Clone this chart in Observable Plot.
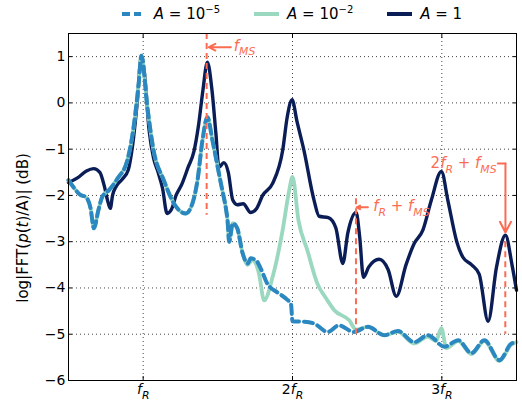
<!DOCTYPE html>
<html><head><meta charset="utf-8">
<script src="https://cdn.jsdelivr.net/npm/d3@7"></script>
<script src="https://cdn.jsdelivr.net/npm/@observablehq/plot@0.6"></script>
<style>
body{margin:0;background:#fff;font-family:"DejaVu Sans",sans-serif;}
#wrap{position:relative;width:522px;height:403px;overflow:hidden;}
#legend{position:absolute;left:68px;width:448px;top:0;height:28px;display:flex;justify-content:center;align-items:center;font-size:15px;color:#000;z-index:2;}
.sw{display:inline-block;width:25px;height:0;border-top:4px solid;margin-right:8px;}
.item{display:flex;align-items:center;margin:0 17px;white-space:nowrap;}
#ylab{position:absolute;left:23px;top:228px;transform:translate(-50%,-50%) rotate(-90deg);font-size:15px;white-space:nowrap;z-index:2;color:#000;}
#chart{position:absolute;left:0;top:32px;z-index:1;}
sup{font-size:10px;vertical-align:6px;line-height:0;}
</style></head>
<body><div id="wrap">
<div id="chart"></div>
<div id="legend"></div>
<div id="ylab">log|FFT(<i>p</i>(<i>t</i>)/A)| (dB)</div>
</div>
<script>
// ---- data (x in units of f_R, y in log units) ----
const xTicks = [1, 2, 3];
const xTickLabels = [[["f","i"],["R","is"]], [["2",""],["f","i"],["R","is"]], [["3",""],["f","i"],["R","is"]]];
const yTicks = [-6, -5, -4, -3, -2, -1, 0, 1];

const seriesNames = ["A = 10^-5", "A = 10^-2", "A = 1"];
const seriesColors = ["#2a87c0", "#9ad8bf", "#0b1d57"];

const navyX = [0.5,0.56,0.62,0.668,0.71,0.74,0.765,0.78,0.795,0.82,0.86,0.9,0.93,0.96,0.988,1.01,1.04,1.07,1.1,1.13,1.16,1.19,1.22,1.26,1.3,1.34,1.37,1.40,1.43,1.46,1.487,1.507,1.54,1.57,1.6,1.63,1.67,1.72,1.76,1.8,1.867,1.934,1.965,1.997,2.03,2.077,2.144,2.178,2.24,2.29,2.337,2.37,2.426,2.45,2.475,2.51,2.58,2.64,2.695,2.76,2.815,2.873,2.93,2.997,3.04,3.1,3.14,3.2,3.25,3.31,3.366,3.426,3.47,3.5];
const navyY = [-1.72,-1.62,-1.47,-1.42,-1.5,-1.8,-2.15,-2.28,-2.0,-1.8,-1.65,-1.45,-0.9,0.0,1.02,0.6,-0.6,-1.2,-1.5,-1.85,-2.39,-2.3,-2.0,-1.75,-1.4,-1.05,-0.5,0.27,0.88,0.3,-0.66,-1.39,-1.29,-1.5,-2.1,-2.2,-2.18,-2.37,-2.28,-2.0,-1.74,-1.03,-0.3,0.07,-0.4,-1.03,-2.1,-2.45,-2.48,-2.7,-3.47,-2.82,-2.37,-2.9,-3.77,-3.55,-3.38,-3.6,-4.18,-3.5,-3.04,-2.75,-2.1,-1.48,-2.1,-3.0,-3.33,-3.5,-3.7,-4.72,-3.55,-2.86,-3.5,-4.05];

const blueX = [0.5,0.54,0.58,0.614,0.648,0.67,0.70,0.726,0.77,0.827,0.894,0.936,0.97,0.988,1.028,1.07,1.138,1.205,1.285,1.33,1.364,1.397,1.43,1.464,1.507,1.53,1.555,1.565,1.576,1.6,1.63,1.666,1.7,1.72,1.755,1.79,1.83,1.9,1.96,1.99,2.0,2.08,2.145,2.236,2.31,2.41,2.505,2.614,2.706,2.815,2.907,3.017,3.11,3.198,3.285,3.386,3.466,3.5];
const blueY = [-1.67,-1.85,-1.99,-2.03,-2.28,-2.71,-2.32,-2.03,-1.89,-1.64,-1.24,-0.52,0.42,1.02,-0.09,-1.03,-1.67,-2.17,-2.39,-2.17,-1.67,-0.81,-0.31,-0.81,-1.52,-1.89,-2.3,-2.54,-3.0,-2.6,-2.71,-3.25,-3.47,-3.36,-3.4,-3.6,-3.9,-4.1,-4.24,-4.35,-4.72,-4.73,-4.77,-4.95,-4.81,-4.95,-4.84,-5.02,-4.93,-5.17,-5.02,-5.27,-5.13,-5.41,-5.13,-5.56,-5.2,-5.17];

const greenX = [0.5,0.54,0.58,0.614,0.648,0.67,0.70,0.726,0.77,0.827,0.894,0.936,0.97,0.988,1.028,1.07,1.138,1.205,1.285,1.33,1.364,1.397,1.43,1.464,1.507,1.53,1.555,1.565,1.576,1.6,1.63,1.666,1.7,1.73,1.775,1.81,1.867,1.934,1.978,2.0,2.04,2.1,2.166,2.23,2.28,2.38,2.426,2.505,2.614,2.706,2.815,2.907,2.96,2.997,3.03,3.11,3.198,3.285,3.386,3.466,3.5];
const greenY = [-1.67,-1.85,-1.99,-2.03,-2.28,-2.71,-2.32,-2.03,-1.89,-1.64,-1.24,-0.52,0.42,1.02,-0.09,-1.03,-1.67,-2.17,-2.39,-2.17,-1.67,-0.81,-0.31,-0.81,-1.52,-1.89,-2.3,-2.54,-3.0,-2.6,-2.71,-3.25,-3.5,-3.4,-3.68,-4.27,-3.76,-2.75,-1.89,-1.6,-2.54,-3.19,-3.9,-4.25,-4.48,-4.7,-4.9,-4.84,-5.02,-4.95,-5.2,-5.05,-5.15,-4.87,-5.3,-5.15,-5.43,-5.15,-5.58,-5.22,-5.17];

// annotations
const fMS = 1.425;
const ruleXs = [fMS, 1 + fMS, 2 + fMS];
const ruleTop = [1.5, -2.07, -3.0];
const ruleBot = [-2.43, -5.0, -5.0];
const annTextX = [1.607, 2.54, 3.366];
const annTextY = [1.22, -2.24, -1.31];
const annAnchor = ["start", "start", "end"];
const annParts = [
  [["f","i"],["MS","is"]],
  [["f","i"],["R","is"],[" + ",""],["f","i"],["MS","is"]],
  [["2",""],["f","i"],["R","is"],[" + ",""],["f","i"],["MS","is"]]
];
const arrX1 = [1.587, 2.505, 3.426], arrY1 = [1.204, -2.258, -1.31];
const arrX2 = [1.44, 2.43, 3.426],  arrY2 = [1.204, -2.258, -2.80];
const connX = [3.375, 3.426], connY = [-1.31, -1.31];

const red = "#fb6c52";

// ---- build ----
const toPts = (xs, ys) => xs.map((x, i) => ({x, y: ys[i]}));
const navy = toPts(navyX, navyY), blue = toPts(blueX, blueY), green = toPts(greenX, greenY);
const rules = ruleXs.map((x, i) => ({x, y1: ruleTop[i], y2: ruleBot[i]}));
const anns = annTextX.map((x, i) => ({x, y: annTextY[i], a: annAnchor[i], k: "ann" + i}));
const arrows = arrX1.map((x1, i) => ({x1, y1: arrY1[i], x2: arrX2[i], y2: arrY2[i]}));
const conn = toPts(connX, connY);
const minus = d => d < 0 ? "\u2212" + Math.abs(d) : String(d);

const chart = Plot.plot({
  width: 522, height: 371,
  marginLeft: 68, marginRight: 6, marginTop: 1, marginBottom: 23,
  x: {domain: [0.5, 3.5]},
  y: {domain: [-6, 1.5]},
  style: {fontFamily: "DejaVu Sans", fontSize: "14px", background: "white", color: "black"},
  marks: [
    Plot.gridX(xTicks, {stroke: "#444", strokeOpacity: 1, strokeDasharray: "1,3"}),
    Plot.gridY(yTicks, {stroke: "#444", strokeOpacity: 1, strokeDasharray: "1,3"}),
    Plot.line(navy, {x: "x", y: "y", stroke: seriesColors[2], strokeWidth: 3.4, curve: "monotone-x"}),
    Plot.line(green, {x: "x", y: "y", stroke: seriesColors[1], strokeWidth: 3.8, curve: "monotone-x"}),
    Plot.line(blue, {x: "x", y: "y", stroke: seriesColors[0], strokeWidth: 4, strokeDasharray: "9,5", curve: "monotone-x"}),
    Plot.ruleX(rules, {x: "x", y1: "y1", y2: "y2", stroke: red, strokeWidth: 2, strokeDasharray: "6,4"}),
    Plot.line(conn, {x: "x", y: "y", stroke: red, strokeWidth: 2}),
    Plot.arrow(arrows, {x1: "x1", y1: "y1", x2: "x2", y2: "y2", stroke: red, strokeWidth: 2, headLength: 9, headAngle: 55}),
    Plot.text(anns.filter(d => d.a === "start"), {x: "x", y: "y", text: "k", textAnchor: "start", lineAnchor: "middle", fill: red, fontSize: 15}),
    Plot.text(anns.filter(d => d.a === "end"), {x: "x", y: "y", text: "k", textAnchor: "end", lineAnchor: "middle", fill: red, fontSize: 15}),
    Plot.frame({stroke: "black", strokeWidth: 1}),
    Plot.axisY(yTicks, {anchor: "left", tickSize: 0, tickPadding: 3, tickFormat: minus, fontSize: 14}),
    Plot.axisY(yTicks, {anchor: "left", tickSize: -4, tickFormat: () => ""}),
    Plot.axisY(yTicks, {anchor: "right", tickSize: -4, tickFormat: () => ""}),
    Plot.axisX(xTicks, {anchor: "bottom", tickSize: 0, tickPadding: 4, tickFormat: d => "tick" + d, fontSize: 14}),
    Plot.axisX(xTicks, {anchor: "bottom", tickSize: -4, tickFormat: () => ""}),
    Plot.axisX(xTicks, {anchor: "top", tickSize: -4, tickFormat: () => ""})
  ]
});
document.getElementById("chart").appendChild(chart);

const NS = "http://www.w3.org/2000/svg";
function setRich(el, parts, base) {
  while (el.firstChild) el.removeChild(el.firstChild);
  let shift = 0;
  for (const [s, f] of parts) {
    const t = document.createElementNS(NS, "tspan");
    t.textContent = s;
    if (f.includes("i")) t.setAttribute("font-style", "italic");
    const target = f.includes("s") ? base * 0.28 : 0;
    if (f.includes("s")) t.setAttribute("font-size", base * 0.72);
    if (target !== shift) { t.setAttribute("dy", target - shift); shift = target; }
    el.appendChild(t);
  }
}
chart.querySelectorAll("text").forEach(el => {
  const s = el.textContent;
  let m = s.match(/^tick(\d)$/);
  if (m) { setRich(el, xTickLabels[+m[1] - 1], 15); return; }
  m = s.match(/^ann(\d)$/);
  if (m) setRich(el, annParts[+m[1]], 15);
});

// legend
const leg = document.getElementById("legend");
const legLabels = [["10", "\u22125"], ["10", "\u22122"], ["1", ""]];
seriesNames.forEach((n, i) => {
  const it = document.createElement("div");
  it.className = "item";
  const sw = document.createElement("span");
  sw.className = "sw";
  if (i === 0) { sw.style.borderTop = "none"; sw.style.height = "4px"; sw.style.width = "19px"; sw.style.marginRight = "13px";
    sw.style.background = `repeating-linear-gradient(90deg, ${seriesColors[0]} 0 7.5px, transparent 7.5px 11.5px)`; }
  else sw.style.borderTopColor = seriesColors[i];
  it.appendChild(sw);
  const tx = document.createElement("span");
  tx.innerHTML = `<i>A</i> = ${legLabels[i][0]}` + (legLabels[i][1] ? `<sup>${legLabels[i][1]}</sup>` : "");
  it.appendChild(tx);
  leg.appendChild(it);
});
</script>
</body></html>
